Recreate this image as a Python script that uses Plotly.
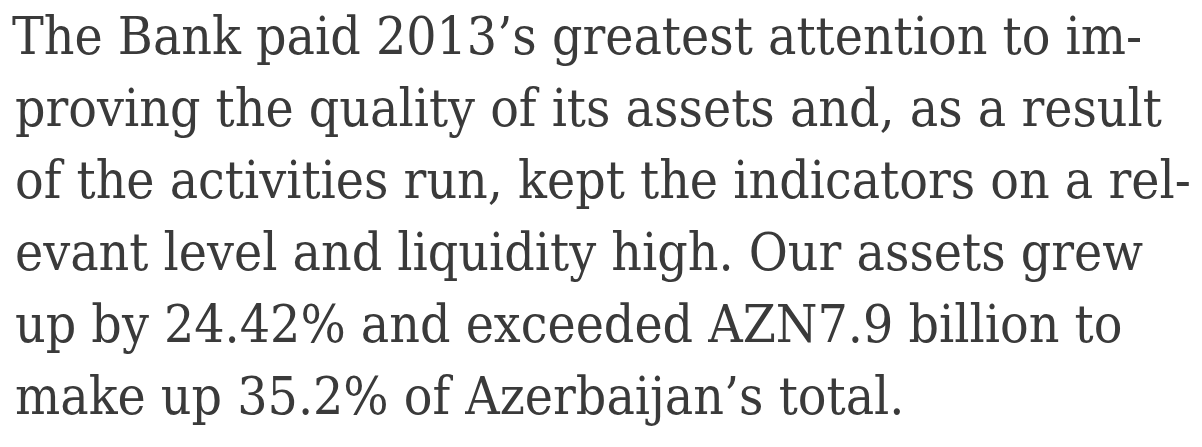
import plotly.graph_objects as go

lines = [
    "The Bank paid 2013’s greatest attention to im-",
    "proving the quality of its assets and, as a result",
    "of the activities run, kept the indicators on a rel-",
    "evant level and liquidity high. Our assets grew",
    "up by 24.42% and exceeded AZN7.9 billion to",
    "make up 35.2% of Azerbaijan’s total.",
]

W, H = 1202, 447
first_base, step = 55, 72
size = 53

fig = go.Figure()
for i, txt in enumerate(lines):
    base = first_base + i * step
    fig.add_annotation(
        x=2 if i == 0 else 5, y=H - (base - 0.52 * size),
        xref="x", yref="y", text=txt, showarrow=False,
        xanchor="left", yanchor="middle",
        font=dict(family="DejaVu Serif Condensed, Liberation Serif",
                  size=size, color="#3a3a3a"),
    )

fig.update_xaxes(range=[0, W], visible=False)
fig.update_yaxes(range=[0, H], visible=False)
fig.update_layout(
    width=W, height=H,
    margin=dict(l=0, r=0, t=0, b=0),
    paper_bgcolor="white", plot_bgcolor="white",
    showlegend=False,
)

fig.write_html("out.html")
